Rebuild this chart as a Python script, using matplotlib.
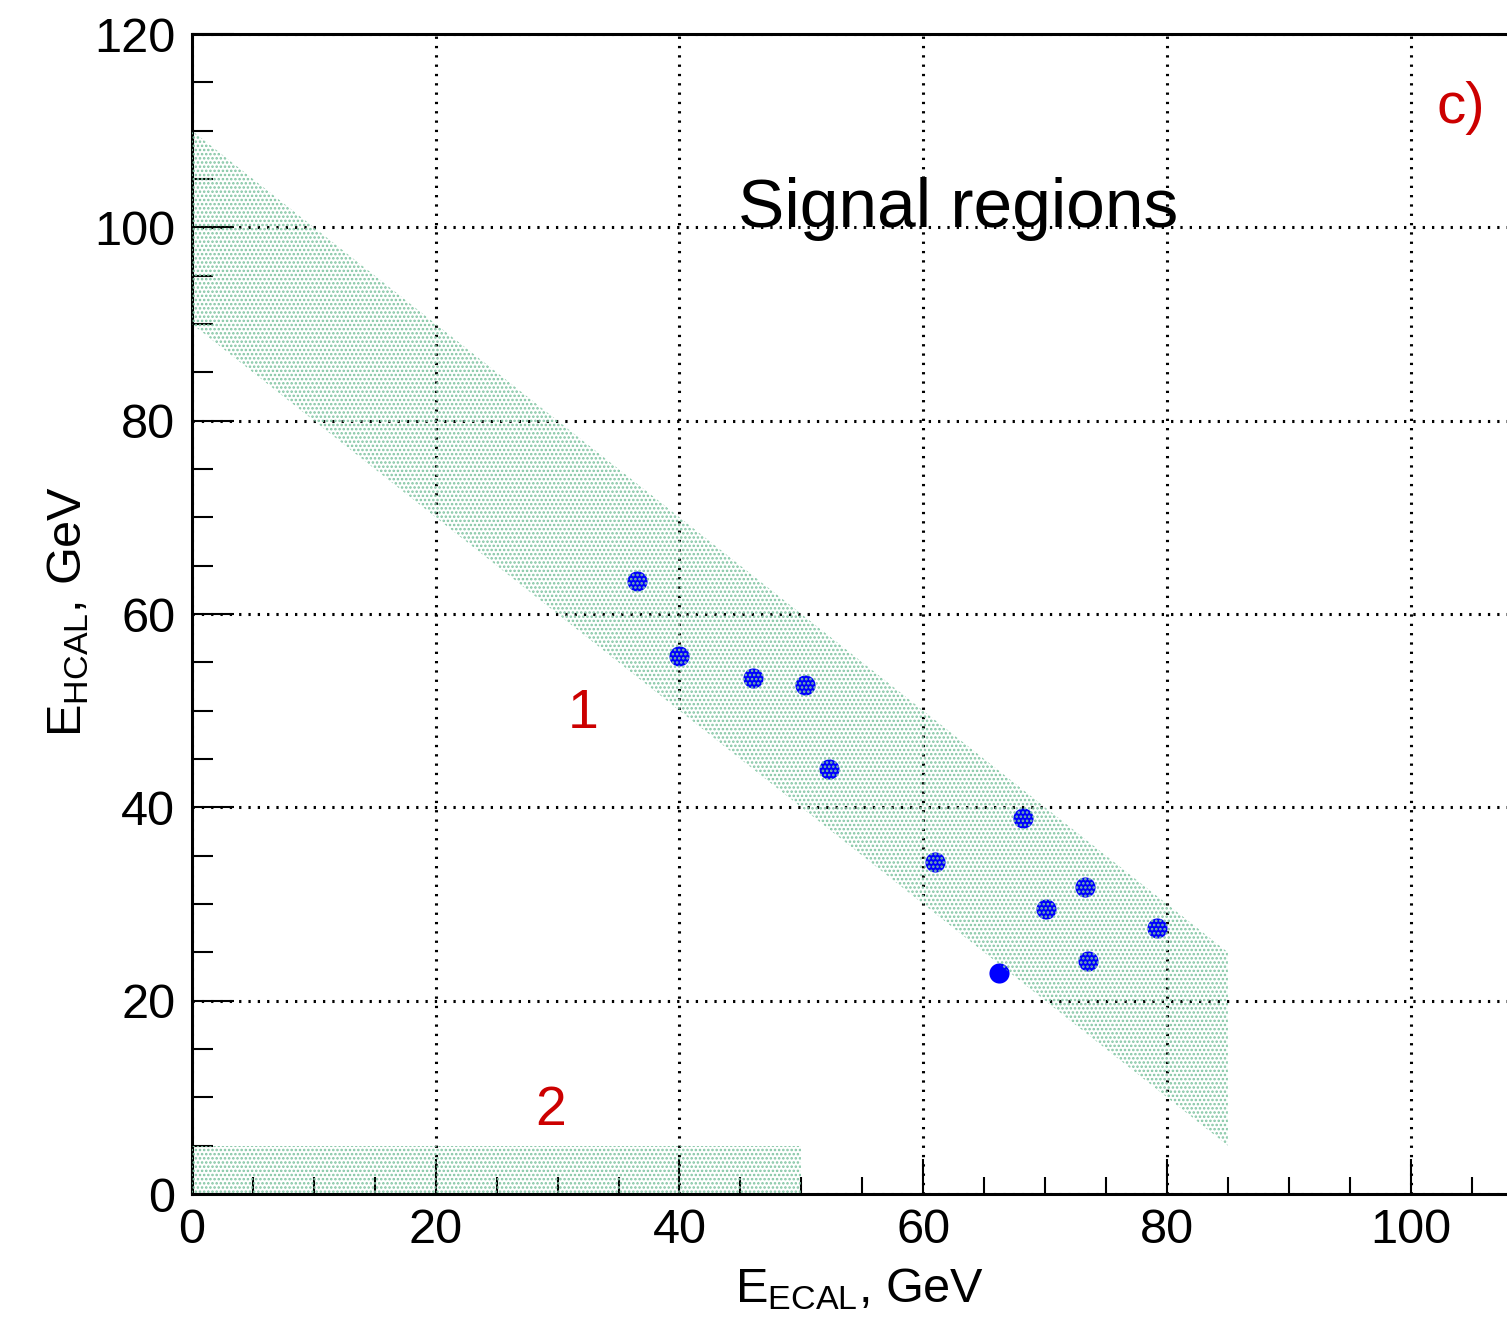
import matplotlib
matplotlib.use("Agg")
import matplotlib.pyplot as plt
from matplotlib.ticker import MultipleLocator

plt.rcParams['font.family'] = ['Liberation Sans', 'DejaVu Sans']
plt.rcParams['mathtext.default'] = 'regular'
plt.rcParams['hatch.linewidth'] = 1.2

# measured events
e_ecal = [36.5, 40.0, 46.0, 50.3, 52.3, 61.0, 68.2, 73.3, 70.1, 79.2, 73.5, 66.2]
e_hcal = [63.4, 55.7, 53.4, 52.7, 44.0, 34.3, 38.9, 31.8, 29.5, 27.5, 24.1, 22.9]

# signal region 1: band E_ECAL + E_HCAL in [90, 110], E_ECAL < 85
region1_x = [0, 85, 85, 0]
region1_y = [110, 25, 5, 90]
# signal region 2: E_ECAL < 50, E_HCAL < 5
region2_x = [0, 50, 50, 0]
region2_y = [0, 0, 5, 5]

hatch_col = '#80c4a2'
red = '#cc0000'

fig = plt.figure(figsize=(15.07, 13.24), dpi=100)
ax = fig.add_axes([192 / 1507, 1 - 1194 / 1324, 1315 / 1507, 1160 / 1324])

ax.set_xlim(0, 107.9)
ax.set_ylim(0, 120)

# grid (dotted)
ax.grid(True, which='major', color='black', linestyle=(0, (0.75, 2.3)), linewidth=2.2, zorder=0)
ax.set_axisbelow(True)

# events
ax.plot(e_ecal, e_hcal, 'o', color='#0000ff', markersize=14.5, markeredgewidth=0, zorder=3)

# stippled regions on top
ax.fill(region1_x, region1_y, facecolor='none', edgecolor=hatch_col, hatch='....', linewidth=0, zorder=4)
ax.fill(region2_x, region2_y, facecolor='none', edgecolor=hatch_col, hatch='....', linewidth=0, zorder=4)

# ticks
ax.xaxis.set_major_locator(MultipleLocator(20))
ax.xaxis.set_minor_locator(MultipleLocator(5))
ax.yaxis.set_major_locator(MultipleLocator(20))
ax.yaxis.set_minor_locator(MultipleLocator(5))
ax.tick_params(axis='both', which='both', direction='in', top=False, right=False, width=1.5, labelsize=35)
ax.tick_params(axis='x', which='major', length=25, pad=10)
ax.tick_params(axis='x', which='minor', length=12.5)
ax.tick_params(axis='y', which='major', length=30, pad=12)
ax.tick_params(axis='y', which='minor', length=15)

for s in ['left', 'bottom', 'top']:
    ax.spines[s].set_linewidth(2.2)
ax.spines['right'].set_visible(False)

ax.set_xlabel(r'$E_{ECAL}$, GeV', fontsize=35)
ax.set_ylabel(r'$E_{HCAL}$, GeV', fontsize=35)
ax.xaxis.set_label_coords(0.508, -0.062)
ax.yaxis.set_label_coords(-0.077, 0.502)

ax.text(44.8, 100, 'Signal regions', fontsize=50, ha='left', va='baseline', zorder=5)
ax.text(32.1, 48.2, '1', fontsize=40, color=red, ha='center', va='baseline', zorder=5)
ax.text(29.4, 7.1, '2', fontsize=40, color=red, ha='center', va='baseline', zorder=5)
ax.text(102.1, 110.8, 'c)', fontsize=42, color=red, ha='left', va='baseline', zorder=5)

fig.savefig('out.png', dpi=100)
